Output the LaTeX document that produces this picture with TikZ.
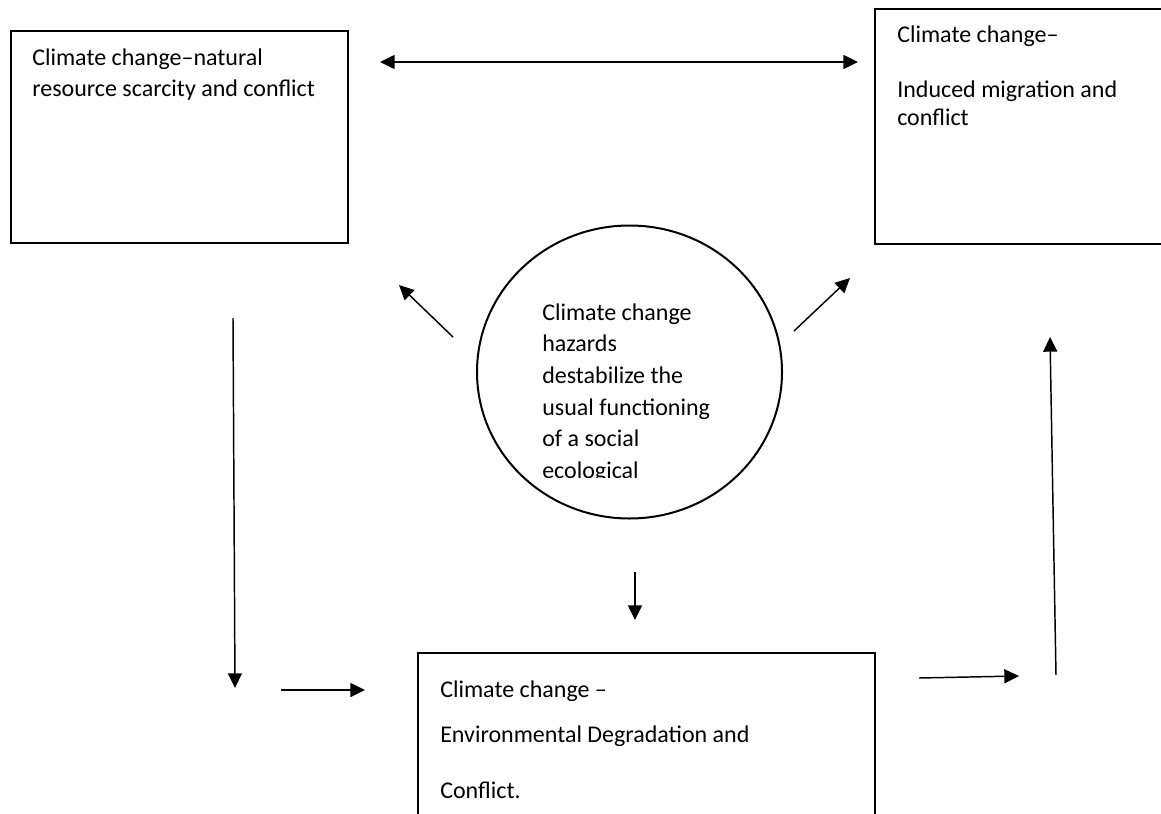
\documentclass[tikz,border=0pt]{standalone}
\usepackage{fontspec}
\setmainfont{Carlito}
\usetikzlibrary{arrows.meta,shapes.geometric}
\begin{document}
\begin{tikzpicture}[x=0.75pt,y=-0.75pt,
  box/.style={draw, line width=1.5pt, rectangle, inner sep=0pt},
  lbl/.style={anchor=base west, inner sep=0pt, font=\fontsize{18}{23}\selectfont},
  arr/.style={line width=1.1pt, -{Triangle[length=11pt,width=10.5pt]}},
]
\clip (0,0) rectangle (1161,814);
\fill[white] (0,0) rectangle (1161,814);
% boxes
\node[box, minimum width=252.75pt, minimum height=159pt] (A) at (179.5,137) {};
\node[box, minimum width=220.9pt, minimum height=175.9pt] (B) at (1022.75,126.25) {};
\node[box, minimum width=342.75pt, minimum height=140.25pt] (C) at (646.5,746.5) {};
\node[draw, ellipse, line width=1.5pt, inner sep=0pt, minimum width=228.75pt, minimum height=219.75pt] (O) at (629.5,372) {};
% box texts
\node[lbl] (a1) at (32,65) {Climate change–natural};
\node[lbl] (a2) at (32,96) {resource scarcity and conflict};
\node[lbl] (b1) at (897,42) {Climate change–};
\node[lbl] (b2) at (897,97) {Induced migration and};
\node[lbl] (b3) at (897,125) {conflict};
\node[lbl] (c1) at (440,697) {Climate change –};
\node[lbl] (c2) at (440,742) {Environmental Degradation and};
\node[lbl] (c3) at (440,798) {Conflict.};
% circle text, bottom line clipped
\begin{scope}
\clip (0,0) rectangle (1161,477.5);
\node[lbl] (o1) at (542,320) {Climate change};
\node[lbl] (o2) at (542,351.7) {hazards};
\node[lbl] (o3) at (542,383.3) {destabilize the};
\node[lbl] (o4) at (542,415) {usual functioning};
\node[lbl] (o5) at (542,446.7) {of a social};
\node[lbl] (o6) at (542,478.3) {ecological};
\end{scope}
% arrow end points
\coordinate (d1) at (380,62);
\coordinate (d2) at (858,62);
\coordinate (ul1) at (453,337);
\coordinate (ul2) at (399,285);
\coordinate (ur1) at (794,331);
\coordinate (ur2) at (850,278);
\coordinate (ld1) at (233,318);
\coordinate (ld2) at (235,688);
\coordinate (lh1) at (281,690);
\coordinate (lh2) at (365,690);
\coordinate (cd1) at (635,572);
\coordinate (cd2) at (635,620);
\coordinate (rh1) at (919,678);
\coordinate (rh2) at (1019,676);
\coordinate (ru1) at (1056,675);
\coordinate (ru2) at (1050,337);
% arrows
\draw[line width=1.1pt, {Triangle[length=11pt,width=10.5pt]}-{Triangle[length=11pt,width=10.5pt]}] (d1) -- (d2);
\draw[arr] (ul1) -- (ul2);
\draw[arr] (ur1) -- (ur2);
\draw[arr] (ld1) -- (ld2);
\draw[arr] (lh1) -- (lh2);
\draw[arr] (cd1) -- (cd2);
\draw[arr] (rh1) -- (rh2);
\draw[arr] (ru1) -- (ru2);
\end{tikzpicture}
\end{document}
